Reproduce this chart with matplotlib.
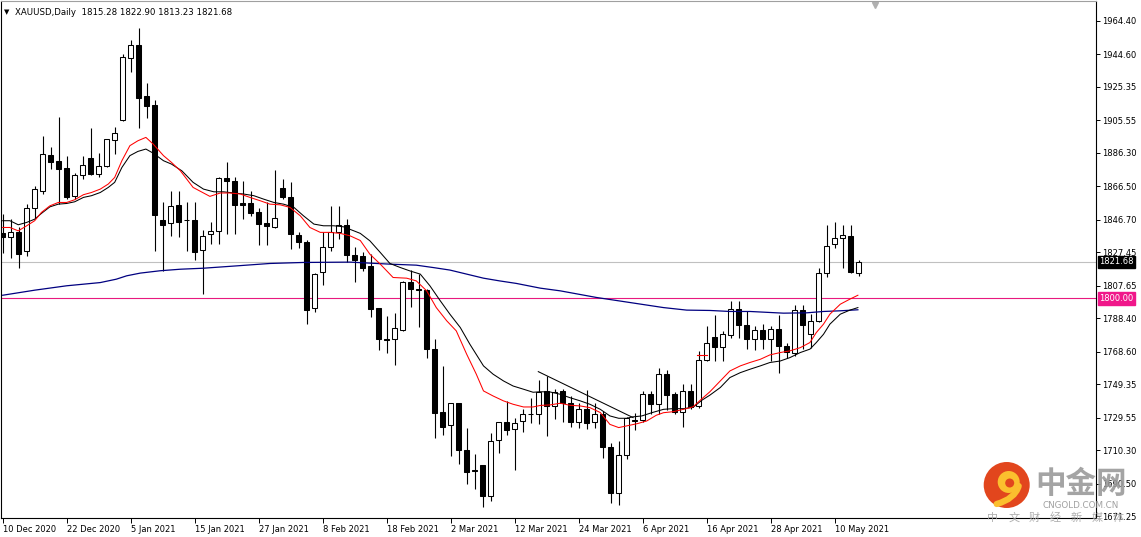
import numpy as np
import matplotlib.pyplot as plt
from matplotlib.patches import Ellipse, PathPatch
from matplotlib.path import Path

plt.rcParams['font.family'] = ['DejaVu Sans']

# daily OHLC, XAUUSD, 10 Dec 2020 .. 13 May 2021
opens = [1839.0, 1836.1, 1839.1, 1827.8, 1853.5, 1863.3, 1884.8, 1881.3, 1877.3, 1860.4,
         1873.0, 1883.3, 1873.4, 1878.1, 1893.7, 1905.6, 1942.3, 1950.2, 1919.8, 1914.6,
         1846.6, 1844.6, 1855.4, 1846.6, 1846.4, 1828.6, 1838.3, 1839.9, 1871.2, 1869.3,
         1856.2, 1856.2, 1850.9, 1844.4, 1842.0, 1865.1, 1860.2, 1837.7, 1833.7, 1794.3,
         1815.9, 1830.2, 1839.1, 1843.4, 1825.6, 1825.2, 1819.3, 1794.2, 1775.9, 1775.9,
         1781.2, 1809.8, 1805.5, 1805.1, 1770.0, 1733.1, 1725.0, 1738.0, 1710.6, 1698.3,
         1701.3, 1683.3, 1716.1, 1726.7, 1722.6, 1727.3, 1731.5, 1731.5, 1745.3, 1736.4,
         1745.3, 1738.4, 1726.9, 1734.4, 1726.9, 1731.5, 1712.1, 1684.7, 1707.2, 1727.3,
         1727.9, 1743.3, 1737.4, 1755.2, 1743.3, 1732.9, 1745.3, 1736.4, 1763.6, 1777.3,
         1771.0, 1778.3, 1793.7, 1784.2, 1775.9, 1781.2, 1776.3, 1781.8, 1771.6, 1768.0,
         1793.1, 1778.8, 1786.7, 1815.0, 1832.1, 1835.7, 1837.1, 1815.28]
highs = [1850.1, 1847.3, 1842.0, 1855.8, 1866.3, 1896.3, 1889.8, 1907.2, 1884.5, 1874.0,
         1884.1, 1900.6, 1886.2, 1894.6, 1901.2, 1944.7, 1953.1, 1960.1, 1927.7, 1917.6,
         1856.8, 1863.7, 1863.7, 1856.8, 1856.8, 1840.6, 1845.4, 1872.0, 1880.5, 1871.6,
         1869.3, 1863.7, 1853.3, 1857.0, 1876.0, 1870.6, 1868.7, 1839.1, 1834.5, 1814.8,
         1839.1, 1854.8, 1854.8, 1847.0, 1830.6, 1827.2, 1826.2, 1794.6, 1789.7, 1791.1,
         1810.2, 1816.8, 1814.4, 1805.5, 1775.9, 1760.1, 1738.4, 1738.4, 1723.2, 1707.8,
         1701.7, 1720.2, 1727.0, 1739.4, 1729.1, 1734.4, 1740.9, 1751.6, 1754.2, 1746.3,
         1746.3, 1742.3, 1738.4, 1745.9, 1738.0, 1733.4, 1714.3, 1715.7, 1730.1, 1732.5,
         1745.3, 1745.3, 1758.7, 1757.5, 1744.9, 1749.2, 1749.2, 1769.0, 1783.8, 1790.3,
         1780.8, 1798.2, 1798.2, 1792.7, 1783.8, 1784.8, 1783.8, 1790.3, 1773.9, 1796.2,
         1796.2, 1790.7, 1817.9, 1843.6, 1845.0, 1843.6, 1843.6, 1822.90]
lows = [1827.0, 1823.9, 1818.3, 1825.2, 1847.9, 1861.8, 1876.6, 1855.8, 1858.8, 1858.8,
        1870.6, 1873.0, 1871.6, 1877.5, 1885.4, 1905.2, 1933.8, 1900.6, 1906.6, 1828.2,
        1816.4, 1837.1, 1836.5, 1828.2, 1822.9, 1802.5, 1832.5, 1832.1, 1838.1, 1838.1,
        1847.0, 1848.5, 1831.6, 1831.6, 1841.5, 1858.8, 1829.2, 1829.6, 1784.8, 1791.7,
        1808.1, 1828.2, 1835.1, 1821.3, 1810.0, 1816.0, 1789.3, 1769.4, 1768.0, 1760.5,
        1780.8, 1795.2, 1783.2, 1765.0, 1717.3, 1719.2, 1706.8, 1701.9, 1690.4, 1687.1,
        1676.8, 1680.1, 1708.4, 1719.0, 1698.7, 1721.2, 1726.1, 1725.5, 1718.6, 1728.5,
        1727.1, 1724.0, 1723.6, 1723.0, 1723.6, 1705.4, 1678.8, 1677.8, 1705.2, 1722.0,
        1727.1, 1731.5, 1731.5, 1734.0, 1731.5, 1724.0, 1734.4, 1735.0, 1763.1, 1763.0,
        1763.0, 1776.5, 1776.5, 1770.0, 1769.4, 1770.0, 1763.0, 1756.1, 1765.0, 1766.0,
        1770.0, 1770.4, 1786.3, 1812.4, 1829.8, 1817.9, 1815.0, 1813.23]
closes = [1836.5, 1839.5, 1826.6, 1853.5, 1864.7, 1885.4, 1880.7, 1876.4, 1859.8, 1873.0,
          1878.9, 1873.4, 1878.5, 1894.3, 1897.9, 1943.1, 1950.2, 1918.4, 1913.7, 1849.3,
          1843.4, 1854.8, 1845.0, 1846.2, 1827.2, 1836.7, 1839.9, 1871.2, 1869.3, 1855.2,
          1855.4, 1850.5, 1844.0, 1843.0, 1847.5, 1860.2, 1838.1, 1833.7, 1793.3, 1814.4,
          1830.2, 1839.1, 1843.4, 1825.6, 1822.7, 1818.3, 1794.0, 1775.9, 1775.5, 1782.8,
          1809.8, 1805.5, 1804.9, 1770.0, 1732.5, 1724.2, 1738.0, 1710.6, 1697.5, 1698.0,
          1683.3, 1715.5, 1726.7, 1722.4, 1726.3, 1731.5, 1731.7, 1744.9, 1736.4, 1744.9,
          1738.4, 1726.9, 1734.4, 1726.1, 1731.5, 1712.1, 1684.7, 1707.2, 1729.5, 1728.1,
          1743.3, 1737.4, 1755.2, 1742.7, 1732.9, 1745.3, 1736.0, 1763.6, 1773.5, 1771.0,
          1778.8, 1793.7, 1784.2, 1776.3, 1781.2, 1776.3, 1781.8, 1771.6, 1768.6, 1793.1,
          1784.2, 1786.7, 1815.0, 1831.2, 1835.7, 1837.7, 1815.4, 1821.68]

# moving averages, sampled along the chart (bar position, price)
red_k = [0, 0.9, 1.95, 3.0, 4.0, 4.84, 5.9, 6.95, 8.0, 9.0, 10.1, 11.1, 12.2, 13.2, 14.0,
         14.9, 15.9, 16.9, 17.9, 18.8, 20.1, 21.1, 22.2, 23.8, 25.9, 27.2, 28.4, 29.7, 30.9,
         32.2, 33.4, 34.7, 35.9, 37.2, 38.4, 39.7, 40.9, 42.2, 43.4, 44.7, 45.9, 47.2, 48.8,
         50.5, 51.7, 53.0, 54.2, 55.5, 56.7, 58.0, 59.2, 60.1, 61.3, 62.6, 63.8, 65.1, 66.3,
         67.2, 68.4, 69.7, 70.9, 72.2, 73.4, 74.7, 75.9, 77.0, 78.0, 79.3, 80.5, 81.7, 82.6,
         83.8, 85.1, 86.3, 87.2, 88.4, 89.7, 90.9, 92.2, 93.4, 94.7, 95.9, 97.2, 98.4, 99.7,
         100.9, 101.7, 102.6, 103.4, 104.7, 105.9, 106.9]
red_v = [1842.0, 1842.0, 1840.0, 1843.0, 1846.0, 1850.9, 1854.8, 1856.8, 1856.8, 1858.4,
         1861.4, 1862.7, 1864.7, 1867.7, 1871.6, 1881.5, 1890.4, 1893.3, 1895.3, 1891.4,
         1884.5, 1880.5, 1875.6, 1865.7, 1860.4, 1862.4, 1862.4, 1861.8, 1859.8, 1857.8,
         1855.8, 1855.4, 1853.9, 1848.9, 1842.0, 1839.1, 1839.1, 1838.5, 1837.1, 1834.3,
         1826.2, 1820.3, 1812.4, 1812.0, 1810.4, 1804.5, 1794.6, 1786.8, 1780.8, 1767.0,
         1755.2, 1745.3, 1742.3, 1739.4, 1737.4, 1735.8, 1735.8, 1736.7, 1737.0, 1738.0,
         1736.8, 1736.4, 1735.4, 1732.5, 1725.5, 1723.6, 1724.6, 1725.9, 1727.5, 1730.9,
         1732.4, 1733.0, 1734.4, 1735.9, 1739.8, 1744.8, 1751.2, 1757.1, 1760.1, 1762.1,
         1764.0, 1766.6, 1768.0, 1769.0, 1770.9, 1773.9, 1779.8, 1784.8, 1790.7, 1796.6,
         1799.6, 1801.9]

blk_k = [0, 0.9, 1.95, 3.0, 4.0, 4.84, 5.9, 6.95, 8.0, 9.0, 10.1, 11.1, 12.2, 13.2, 14.0,
         14.9, 15.9, 16.9, 17.9, 18.8, 20.1, 21.1, 22.4, 23.8, 25.1, 26.4, 27.6, 28.9, 30.1,
         31.4, 32.6, 33.9, 35.1, 36.4, 37.6, 38.9, 40.1, 41.4, 42.6, 43.9, 44.7, 45.9, 47.2,
         48.4, 49.7, 50.9, 52.2, 53.4, 54.7, 55.9, 57.2, 58.4, 60.1, 61.3, 62.6, 63.8, 65.1,
         66.3, 67.2, 68.4, 69.7, 70.9, 72.2, 73.4, 74.7, 75.9, 77.0, 78.0, 78.7, 79.9, 81.2,
         82.6, 83.8, 85.1, 86.3, 87.4, 88.4, 89.7, 90.9, 92.2, 93.4, 94.7, 95.9, 97.2, 98.4,
         99.7, 100.9, 101.7, 102.6, 103.4, 104.7, 105.9, 106.9]
blk_v = [1846.0, 1846.0, 1843.6, 1845.0, 1846.9, 1850.3, 1854.2, 1855.8, 1856.2, 1857.2,
         1859.8, 1860.8, 1862.7, 1865.7, 1868.7, 1877.5, 1884.5, 1887.0, 1888.4, 1886.0,
         1881.5, 1879.5, 1875.5, 1868.7, 1864.7, 1863.1, 1863.1, 1862.4, 1861.8, 1860.8,
         1858.8, 1856.8, 1855.8, 1853.9, 1848.9, 1844.0, 1843.0, 1843.0, 1842.4, 1840.0,
         1838.5, 1834.1, 1827.2, 1820.7, 1818.3, 1816.3, 1814.4, 1807.5, 1798.6, 1790.7,
         1782.8, 1772.9, 1760.1, 1755.2, 1751.2, 1748.2, 1746.3, 1744.5, 1744.8, 1744.7,
         1743.3, 1741.3, 1739.4, 1737.4, 1734.4, 1730.5, 1729.1, 1729.1, 1729.9, 1730.5,
         1732.5, 1734.4, 1734.8, 1734.8, 1735.6, 1739.8, 1742.8, 1747.3, 1753.2, 1756.1,
         1758.1, 1760.1, 1762.1, 1763.0, 1765.0, 1768.0, 1770.0, 1773.9, 1778.8, 1784.8,
         1790.7, 1793.1, 1794.6]

navy_k = [0, 4.0, 8.0, 12.2, 14.2, 15.5, 17.2, 19.7, 22.2, 25.1, 29.3, 33.4, 37.6, 43.4,
          48.4, 51.7, 53.8, 55.9, 58.0, 60.1, 62.1, 64.2, 67.2, 69.7, 74.2, 78.4, 82.6,
          85.5, 88.4, 90.9, 93.4, 97.6, 100.5, 102.6, 104.7, 106.9]
navy_v = [1801.9, 1804.9, 1807.5, 1809.4, 1811.4, 1813.4, 1815.0, 1816.4, 1817.3, 1817.9,
          1819.3, 1820.7, 1821.3, 1821.5, 1820.3, 1819.7, 1818.3, 1816.8, 1814.4, 1812.0,
          1810.4, 1808.9, 1806.1, 1804.5, 1800.6, 1797.6, 1794.6, 1793.1, 1792.9, 1792.3,
          1792.3, 1791.3, 1791.5, 1792.3, 1792.7, 1793.3]

# hand drawn trend line and small marker
trend_k = [66.95, 78.8]
trend_v = [1756.7, 1729.5]
mark_k = [86.8, 88.0]
mark_v = [1766.4, 1766.4]

bid = 1821.68
level = 1800.00

yticks = [1964.40, 1944.60, 1925.35, 1905.55, 1886.30, 1866.50, 1846.70, 1827.45,
          1807.65, 1788.40, 1768.60, 1749.35, 1729.55, 1710.30, 1690.50, 1671.25]
date_idx = [0, 8, 16, 24, 32, 40, 48, 56, 64, 72, 80, 88, 96, 104]
date_labels = ['10 Dec 2020', '22 Dec 2020', '5 Jan 2021', '15 Jan 2021', '27 Jan 2021',
               '8 Feb 2021', '18 Feb 2021', '2 Mar 2021', '12 Mar 2021', '24 Mar 2021',
               '6 Apr 2021', '16 Apr 2021', '28 Apr 2021', '10 May 2021']

W, H = 1141, 537
fig = plt.figure(figsize=(W / 100, H / 100), dpi=100)
ax = fig.add_axes([1 / W, 19 / H, 1094.5 / W, 517 / H])

idx = np.arange(len(opens))
o = np.array(opens)
c = np.array(closes)
hi = np.array(highs)
lo = np.array(lows)

ax.axhline(bid, color='#c0c0c0', lw=0.8, zorder=1)
ax.axhline(level, color='#e8197f', lw=0.8, zorder=1)

ax.vlines(idx, lo, hi, color='black', lw=0.8, zorder=2)
bottoms = np.minimum(o, c)
heights = np.maximum(np.abs(c - o), 0.35)
faces = ['white' if cc >= oo else 'black' for oo, cc in zip(o, c)]
ax.bar(idx, heights, bottom=bottoms, width=0.6, color=faces, edgecolor='black',
       linewidth=0.75, zorder=3)

ax.plot(navy_k, navy_v, color='#000080', lw=0.9, zorder=4)
ax.plot(blk_k, blk_v, color='black', lw=0.75, zorder=4)
ax.plot(red_k, red_v, color='#ff0000', lw=0.75, zorder=5)
ax.plot(trend_k, trend_v, color='black', lw=0.75, zorder=4)
ax.plot(mark_k, mark_v, color='#ff0000', lw=0.8, zorder=5)

ax.set_xlim(-0.21, 136.6)
ax.set_ylim(1670.1, 1976.0)

ax.yaxis.tick_right()
ax.set_yticks(yticks)
ax.set_yticklabels(['%.2f' % v for v in yticks])
ax.tick_params(axis='y', right=True, left=False, length=3, width=0.7, pad=1.5,
               labelsize=6, direction='out')
ax.set_xticks(date_idx)
ax.set_xticklabels(date_labels, ha='left')
ax.tick_params(axis='x', length=3.5, width=0.7, pad=1.2, labelsize=6, direction='out')
for side in ['left', 'bottom', 'right']:
    ax.spines[side].set_linewidth(0.8)
    ax.spines[side].set_color('black')
ax.spines['top'].set_color('#a0a0a0')
ax.spines['top'].set_linewidth(0.8)

# price tags on the right scale
ytr = ax.get_yaxis_transform()
ax.text(1.0035, bid, '%.2f' % bid, transform=ytr, color='white', fontsize=6,
        va='center', ha='left', zorder=6,
        bbox=dict(boxstyle='square,pad=0.2', fc='black', ec='black'), clip_on=False)
ax.text(1.0035, level, '%.2f' % level, transform=ytr, color='white', fontsize=6,
        va='center', ha='left', zorder=6,
        bbox=dict(boxstyle='square,pad=0.2', fc='#f0178a', ec='#f0178a'), clip_on=False)

# chart shift marker
xtr = ax.get_xaxis_transform()
ax.plot([109.0], [0.992], marker='v', color='#b0b0b0', ms=5, transform=xtr, clip_on=False)

# title
fig.text(4 / W, 1 - 12.5 / H, '\u25BC', fontsize=5, va='center', ha='left')
fig.text(15 / W, 1 - 12.5 / H, 'XAUUSD,Daily  1815.28 1822.90 1813.23 1821.68',
         fontsize=6.2, va='center', ha='left')

# watermark
cx, cy, r = 1006.7, 485.0, 23.0
fig.add_artist(Ellipse((cx / W, 1 - cy / H), 2 * r / W, 2 * r / H,
                       transform=fig.transFigure, fc='#e2461d', ec='none', zorder=10))
fig.add_artist(Ellipse(((cx + 2) / W, 1 - (cy - 3) / H), 22 / W, 22 / H,
                       transform=fig.transFigure, fc='#fbbf2e', ec='none', zorder=11))
fig.add_artist(Ellipse(((cx + 3) / W, 1 - (cy - 2) / H), 9 / W, 9 / H,
                       transform=fig.transFigure, fc='#e2461d', ec='none', zorder=12))
tail = Path([((cx + 12) / W, 1 - (cy + 1) / H), ((cx + 8) / W, 1 - (cy + 14) / H),
             ((cx - 10) / W, 1 - (cy + 19) / H)],
            [Path.MOVETO, Path.CURVE3, Path.CURVE3])
fig.add_artist(PathPatch(tail, transform=fig.transFigure, fc='none', ec='#fbbf2e',
                         lw=4.5, capstyle='round', zorder=11))

fig.text(1081 / W, 1 - 484 / H, '中金网', fontsize=22, fontweight='bold',
         family=['Noto Sans CJK SC', 'DejaVu Sans'], color='#9a9a9a', alpha=0.9,
         ha='center', va='center', zorder=10)
fig.text(1081 / W, 1 - 505 / H, 'CNGOLD.COM.CN', fontsize=6.3, color='#a0a0a0',
         ha='center', va='center', zorder=10)
for i, ch in enumerate('中文财经新媒体'):
    fig.text((993 + 20.8 * i) / W, 1 - 517.5 / H, ch, fontsize=8,
             family=['Noto Sans CJK SC', 'DejaVu Sans'], color='#a6a6a6', alpha=0.9,
             ha='center', va='center', zorder=10)

fig.savefig('out.png', dpi=100, facecolor='white')
